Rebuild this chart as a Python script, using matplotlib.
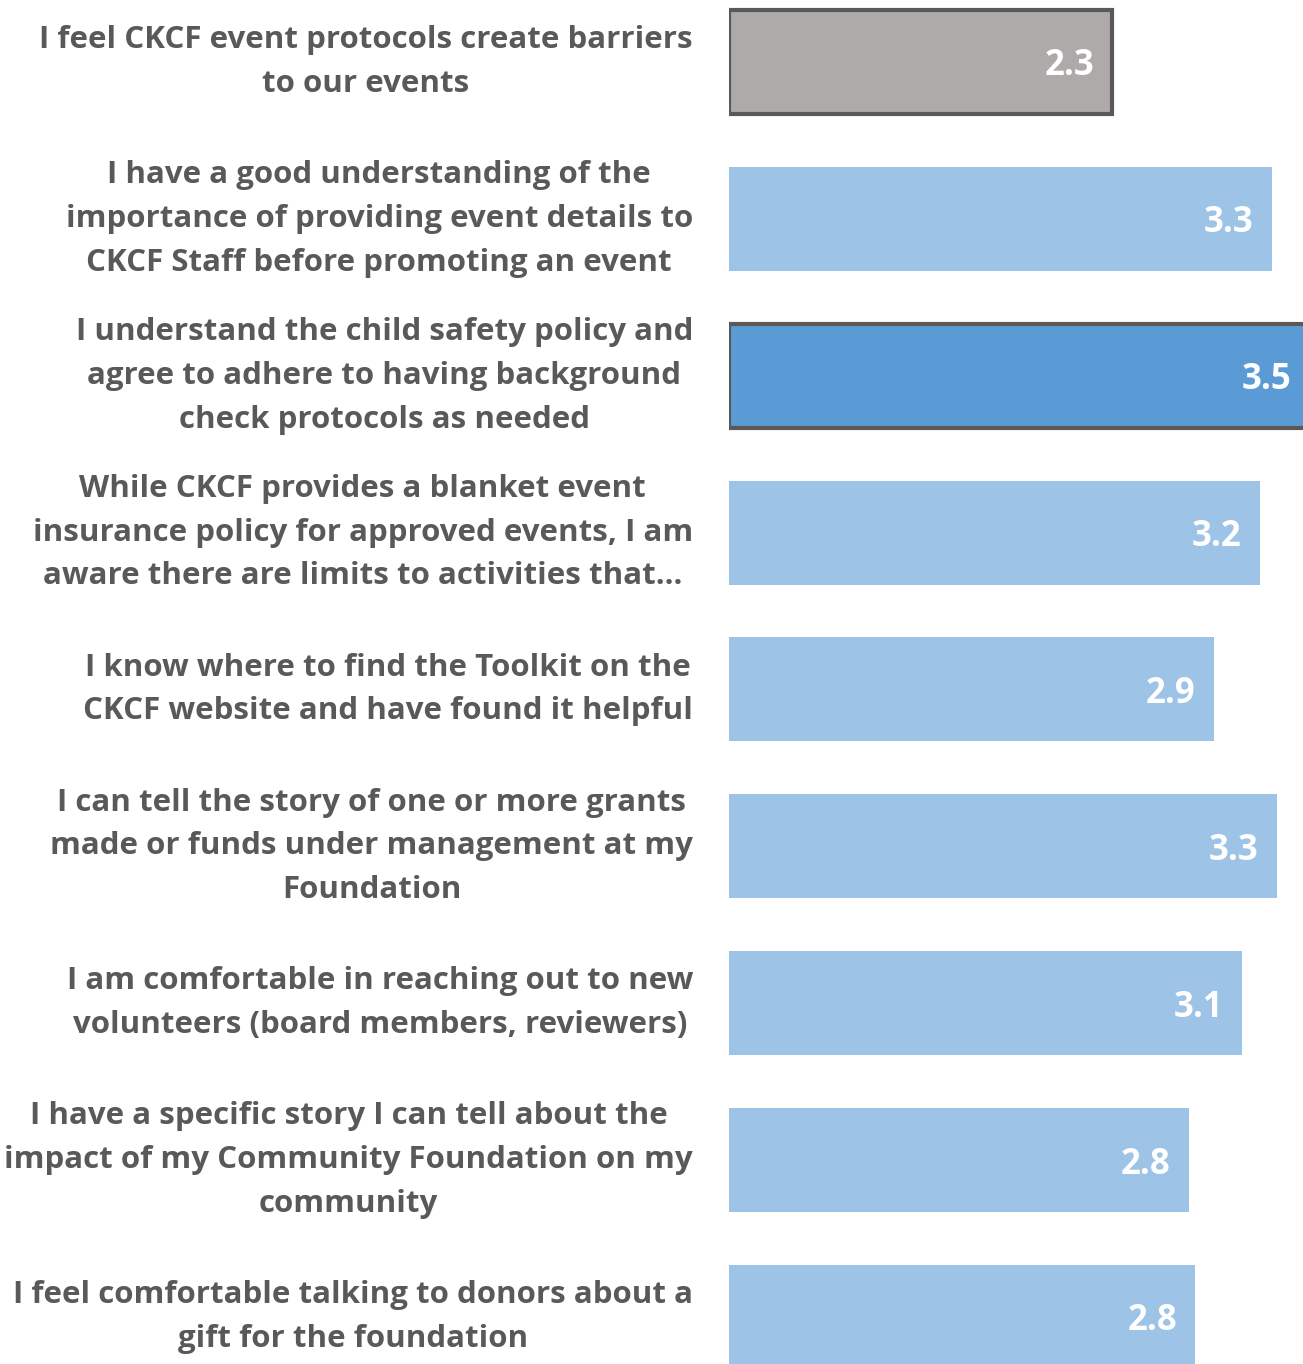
import matplotlib
matplotlib.use('Agg')
import matplotlib.pyplot as plt
import numpy as np

plt.rcParams['font.family'] = ['Open Sans', 'DejaVu Sans']

labels = ['I feel CKCF event protocols create barriers\nto our events',
          'I have a good understanding of the\nimportance of providing event details to\nCKCF Staff before promoting an event',
          'I understand the child safety policy and\nagree to adhere to having background\ncheck protocols as needed',
          'While CKCF provides a blanket event\ninsurance policy for approved events, I am\naware there are limits to activities that...',
          'I know where to find the Toolkit on the\nCKCF website and have found it helpful',
          'I can tell the story of one or more grants\nmade or funds under management at my\nFoundation',
          'I am comfortable in reaching out to new\nvolunteers (board members, reviewers)',
          'I have a specific story I can tell about the\nimpact of my Community Foundation on my\ncommunity',
          'I feel comfortable talking to donors about a\ngift for the foundation']
values = [2.31, 3.27, 3.5, 3.20, 2.92, 3.30, 3.09, 2.77, 2.81]
shown = ['2.3', '3.3', '3.5', '3.2', '2.9', '3.3', '3.1', '2.8', '2.8']

colors = ['#AEAAAA', '#9DC3E6', '#5B9BD5'] + ['#9DC3E6'] * 6
edges = ['#595959', 'none', '#595959'] + ['none'] * 6

fig = plt.figure(figsize=(13.03, 13.64), dpi=100)
ax = fig.add_axes([729 / 1303, 0, 574 / 1303, 1])

y = np.arange(len(values))
bars = ax.barh(y, values, height=0.663, color=colors, zorder=2)
for b, ec in zip(bars, edges):
    if ec != 'none':
        b.set_edgecolor(ec)
        b.set_linewidth(3)

ax.set_xlim(0, 3.458)
ax.set_ylim(8.30, -0.395)
ax.axis('off')

for yi, v, s in zip(y, values, shown):
    ax.text(v - 0.11, yi, s, ha='right', va='center_baseline',
            color='white', fontsize=25, fontweight='bold', zorder=3)

for yi, lab in zip(y, labels):
    ax.annotate(lab, xy=(0, yi), xycoords='data',
                xytext=(-26, 0), textcoords='offset points',
                ha='right', va='center', multialignment='center',
                color='#595959', fontsize=22.5, fontweight='bold',
                linespacing=1.6, annotation_clip=False)

fig.savefig('out.png', dpi=100)
